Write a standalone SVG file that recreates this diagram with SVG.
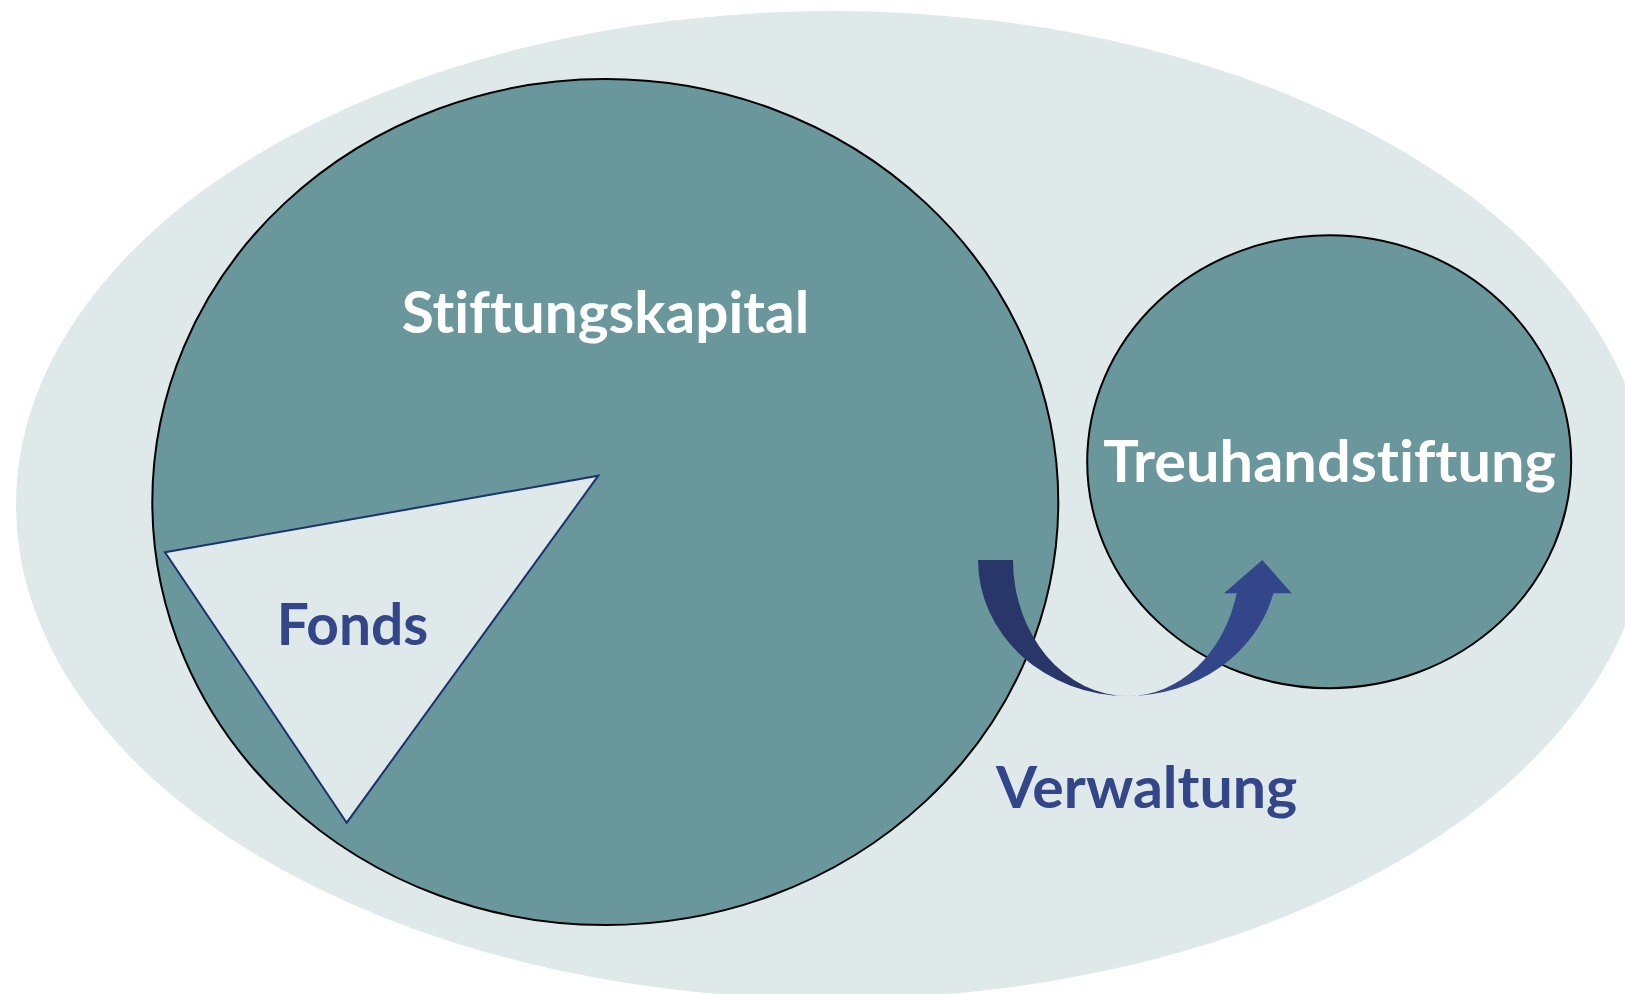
<svg xmlns="http://www.w3.org/2000/svg" width="1625" height="994" viewBox="0 0 1625 994">
  <style>
    .bg { fill: #e0e9ea; }
    .pool { fill: #6a979b; stroke: #000000; stroke-width: 2; }
    .fund { fill: #e0e9ea; stroke: #1a3370; stroke-width: 2; stroke-linejoin: miter; }
    .lbl { font-family: Lato, "Open Sans", "Liberation Sans", sans-serif; font-weight: 700; font-size: 56.5px; font-variant-ligatures: none; font-feature-settings: "liga" 0, "dlig" 0; }
    .light { fill: #ffffff; }
    .dark { fill: #33468a; }
  </style>
  <rect width="1625" height="994" fill="#ffffff"/>

  <!-- outer frame: the foundation as a whole -->
  <g id="stiftung">
    <ellipse class="bg" cx="833" cy="505" rx="817" ry="494"/>
  </g>

  <!-- endowment capital -->
  <g id="stiftungskapital">
    <ellipse class="pool" cx="605.3" cy="502" rx="453" ry="423"/>
    <text class="lbl light" x="401.7" y="333.3" textLength="407.6" lengthAdjust="spacingAndGlyphs">Stiftungskapital</text>
  </g>

  <!-- fund slice inside the capital -->
  <g id="fonds">
    <polygon class="fund" points="165,552.3 598.3,475.7 346.7,822.7"/>
    <text class="lbl dark" x="276.7" y="645" textLength="151.6" lengthAdjust="spacingAndGlyphs">Fonds</text>
  </g>

  <!-- trust foundation -->
  <g id="treuhandstiftung">
    <ellipse class="pool" cx="1329.2" cy="461.7" rx="242" ry="226.5"/>
    <text class="lbl light" x="1103.3" y="481.7" textLength="452.7" lengthAdjust="spacingAndGlyphs">Treuhandstiftung</text>
  </g>

  <!-- curved administration arrow from capital to trust -->
  <g id="connectors">
    <path fill="#283669" d="M978,560 L1013,560 A115,136 0 0 0 1128,696 A150,136 0 0 1 978,560 Z"/>
    <path fill="#33468a" d="M1128,696 A150,136 0 0 0 1273.4,593.3 L1291.7,593.3 L1262.3,560 L1224,593.3 L1236.7,593.3 A112,136 0 0 1 1128,696 Z"/>
    <text class="lbl dark" x="996" y="808.3" textLength="301.3" lengthAdjust="spacingAndGlyphs">Verwaltung</text>
  </g>
</svg>
